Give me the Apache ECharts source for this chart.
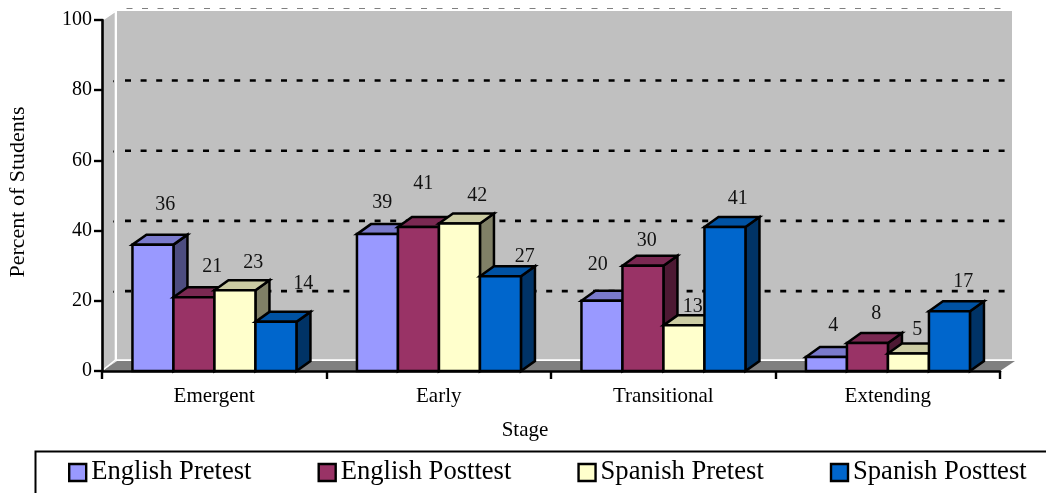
<!DOCTYPE html>
<html><head><meta charset="utf-8">
<style>html,body{margin:0;padding:0;background:#fff}#c{width:1046px;height:493px}</style>
<script src="https://cdn.jsdelivr.net/npm/echarts@6/dist/echarts.min.js"></script>
</head><body><div id="c"></div>
<script>
const categories = ['Emergent','Early','Transitional','Extending'];
const englishPretest = [36,39,20,4];
const englishPosttest = [21,41,30,8];
const spanishPretest = [23,42,13,5];
const spanishPosttest = [14,27,41,17];
const yTicks = [20,40,60,80,100];
const seriesNames = ['English Pretest','English Posttest','Spanish Pretest','Spanish Posttest'];
const seriesValues = [englishPretest,englishPosttest,spanishPretest,spanishPosttest];

// styling only
const faceColors = [
  {front:'#9999FF',top:'#7A7ACC',side:'#4D4D80'},
  {front:'#993366',top:'#7A2952',side:'#4D1933'},
  {front:'#FFFFCC',top:'#CCCCA3',side:'#808066'},
  {front:'#0066CC',top:'#0052A3',side:'#003366'}
];
const labelShift = [
  [[12.5,-40],[5,-31.5],[-4,-36],[7,-31.5]],
  [[18.5,-31],[5,-43.5],[4,-25],[9,-29.5]],
  [[18.5,-28],[18,-28],[9,-19],[9,-24]],
  [[27.5,-38.5],[24.5,-19.5],[13,-28.5],[14,-30]]
];
const DX = 14, DY = -10, WX = 15, WY = -10;
const BAR_FRAC = 41/224.5;
const FONT = '"Liberation Serif","Times New Roman",serif';

function wallItem(params, api){
  const cs = params.coordSys;
  const L = cs.x, R = cs.x+cs.width, T = cs.y, B = cs.y+cs.height;
  const ch = [];
  ch.push({type:'polygon',silent:true,shape:{points:[[L,B],[L+WX-1,B+WY],[L+WX-1,T+WY],[L,T]]},style:{fill:'#C0C0C0'}});
  ch.push({type:'rect',silent:true,shape:{x:L+WX,y:T+WY+1,width:cs.width-3,height:cs.height-2},style:{fill:'#C0C0C0'}});
  ch.push({type:'polygon',silent:true,shape:{points:[[L,B],[L+WX,B+WY],[R+WX,B+WY],[R,B]]},style:{fill:'#808080'}});
  ch.push({type:'polyline',silent:true,shape:{points:[[L+1,B-1],[L+WX-1.5,B+WY-1],[R+WX-3,B+WY-1]]},style:{fill:'none',stroke:'#fff',lineWidth:1.5}});
  ch.push({type:'polyline',silent:true,shape:{points:[[L+WX-1.5,B+WY-1],[L+WX-1.5,T+WY+1],[L+1,T-0.5]]},style:{fill:'none',stroke:'#fff',lineWidth:1.6}});
  yTicks.forEach(v=>{
    const y = api.coord([0,v])[1];
    if(v===100){
      ch.push({type:'line',silent:true,shape:{x1:L+WX+1,y1:8.5,x2:R+8,y2:8.5},style:{stroke:'#808080',lineWidth:1,lineDash:[6,9.5],lineDashOffset:7}});
    }else{
      ch.push({type:'line',silent:true,shape:{x1:L+23,y1:y-9.7,x2:R+8,y2:y-9.7},style:{stroke:'#000',lineWidth:2.6,lineDash:[6,9.6]}});
      ch.push({type:'rect',silent:true,shape:{x:L+11,y:y-10,width:1,height:2},style:{fill:'#333'}});
    }
  });
  return {type:'group',children:ch};
}
function barItem(si){
  return function(params, api){
    const c = api.coord([api.value(0),api.value(1)]);
    const b = api.coord([api.value(0),0]);
    const w = api.size([1,0])[0]*BAR_FRAC;
    const x0 = c[0]-2*w+si*w+0.2, x1 = x0+w, yT = c[1], yB = b[1];
    const col = faceColors[si];
    const st = f=>({fill:f,stroke:'#000',lineWidth:2.5,lineJoin:'miter'});
    return {type:'group',children:[
      {type:'polygon',silent:true,shape:{points:[[x1,yT],[x1+DX,yT+DY],[x1+DX,yB+DY],[x1,yB]]},style:st(col.side)},
      {type:'polygon',silent:true,shape:{points:[[x0,yT],[x0+DX,yT+DY],[x1+DX,yT+DY],[x1,yT]]},style:st(col.top)},
      {type:'polygon',silent:true,shape:{points:[[x0,yT],[x1,yT],[x1,yB],[x0,yB]]},style:st(col.front)}
    ]};
  };
}
function labelItem(si){
  return function(params, api){
    const cat = api.value(0);
    const c = api.coord([cat,api.value(1)]);
    const w = api.size([1,0])[0]*BAR_FRAC;
    const s = labelShift[si][cat];
    return {type:'text',silent:true,style:{
      x:c[0]-2*w+(si+0.5)*w+s[0],y:c[1]+s[1],text:String(api.value(1)),
      align:'center',verticalAlign:'middle',fill:'#111',font:'20px '+FONT}};
  };
}
const series = [{
  type:'custom',name:'walls',coordinateSystem:'cartesian2d',z:1,silent:true,clip:false,
  renderItem:wallItem,data:[[0,0]],encode:{x:0,y:1},tooltip:{show:false}
}];
seriesNames.forEach((n,si)=>{
  series.push({type:'custom',name:n,coordinateSystem:'cartesian2d',z:2,silent:true,clip:false,
    itemStyle:{color:faceColors[si].front},
    renderItem:barItem(si),
    data:seriesValues[si].map((v,i)=>[i,v]),encode:{x:0,y:1}});
});
seriesNames.forEach((n,si)=>{
  series.push({type:'custom',name:n+' labels',coordinateSystem:'cartesian2d',z:6,silent:true,clip:false,
    renderItem:labelItem(si),
    data:seriesValues[si].map((v,i)=>[i,v]),encode:{x:0,y:1}});
});
const chart = echarts.init(document.getElementById('c'),null,{renderer:'canvas'});
chart.setOption({
  animation:false,
  backgroundColor:'#fff',
  grid:{left:102,right:46,top:20,height:351,outerBoundsMode:'none'},
  textStyle:{fontFamily:FONT},
  xAxis:{type:'category',data:categories,z:4,
    axisLine:{lineStyle:{color:'#000',width:2.6}},
    axisTick:{show:true,length:8,alignWithLabel:false,lineStyle:{color:'#000',width:2.4}},
    axisLabel:{color:'#000',fontSize:21,fontFamily:FONT,margin:15},
    name:'Stage',nameLocation:'middle',nameGap:49,
    nameTextStyle:{color:'#000',fontSize:21,fontFamily:FONT,padding:[0,52,0,0]},
    splitLine:{show:false}},
  yAxis:{type:'value',min:0,max:100,interval:20,z:4,
    axisLine:{show:true,lineStyle:{color:'#000',width:2.6}},
    axisTick:{show:true,length:8,lineStyle:{color:'#000',width:2.4}},
    axisLabel:{color:'#000',fontSize:20,fontFamily:FONT,margin:10,padding:[3,0,0,0]},
    name:'Percent of Students',nameLocation:'middle',nameGap:73,nameRotate:90,
    nameTextStyle:{color:'#000',fontSize:22,fontFamily:FONT,padding:[0,0,0,7]},
    splitLine:{show:false}},
  legend:{data:seriesNames,left:68,top:459,padding:0,itemWidth:17,itemHeight:17,itemGap:66,icon:'rect',
    selectedMode:false,
    itemStyle:{borderColor:'#000',borderWidth:2.4},
    textStyle:{color:'#000',fontSize:26.6,fontFamily:FONT}},
  graphic:[{type:'rect',left:33,top:449,silent:true,shape:{width:1060,height:100},style:{fill:'none',stroke:'#000',lineWidth:2}}],
  series
});
</script></body></html>
